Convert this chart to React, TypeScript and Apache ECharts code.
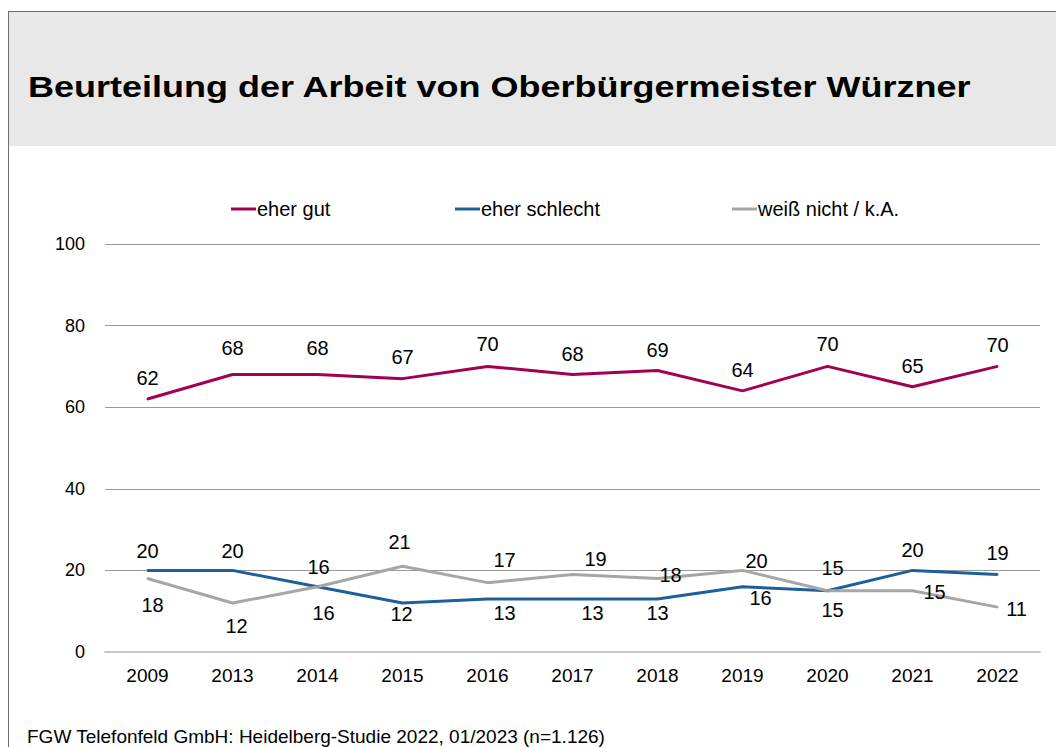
import React, { useEffect, useRef } from "react";
import * as echarts from "echarts";

const years = ["2009", "2013", "2014", "2015", "2016", "2017", "2018", "2019", "2020", "2021", "2022"];
const eherGut = [62, 68, 68, 67, 70, 68, 69, 64, 70, 65, 70];
const eherSchlecht = [20, 20, 16, 12, 13, 13, 13, 16, 15, 20, 19];
const weissNicht = [18, 12, 16, 21, 17, 19, 18, 20, 15, 15, 11];
const seriesNames = ["eher gut", "eher schlecht", "weiß nicht / k.A."];
const yTicks = { min: 0, max: 100, interval: 20 };

const titleText = "Beurteilung der Arbeit von Oberbürgermeister Würzner";
const footerText = "FGW Telefonfeld GmbH: Heidelberg-Studie 2022, 01/2023 (n=1.126)";

// label placement (offsets of label centre from point, in px)
const gutOffsets = [[0, -21], [0, -27], [0, -27], [0, -22], [0, -22], [0, -21], [0, -20], [0, -21], [0, -22], [0, -21], [0, -21]];
const schlechtOffsets = [[0, -19], [0, -19], [6, 26], [-1, 11], [17, 14], [20, 14], [0, 14], [18, 11], [5, 19], [0, -20], [0, -21]];
const weissOffsets = [[5, 26], [4, 23], [1, -20], [-3, -24], [17, -23], [23, -15], [13, -4], [14, -9], [5, -23], [22, 1], [19, 2]];

const FONT = "Arial, 'Liberation Sans', sans-serif";
const colors = ["#A3004F", "#1F5F99", "#A6A6A6"];

function buildData(values: number[], offsets: number[][]) {
  return values.map((v, i) => ({
    value: v,
    label: { position: "inside", offset: offsets[i] },
  }));
}

function makeSeries(name: string, values: number[], offsets: number[][], color: string) {
  return {
    name,
    type: "line",
    data: buildData(values, offsets),
    symbol: "circle",
    symbolSize: 2,
    showSymbol: true,
    lineStyle: { color, width: 3 },
    itemStyle: { color },
    label: {
      show: true,
      fontFamily: FONT,
      fontSize: 20,
      color: "#000",
    },
    emphasis: { disabled: true },
  };
}

export default function App() {
  const ref = useRef<HTMLDivElement>(null);
  useEffect(() => {
    if (!ref.current) return;
    const chart = echarts.init(ref.current, undefined, { renderer: "svg" });
    const legendBase = {
      top: 194,
      itemWidth: 25,
      itemHeight: 3,
      itemGap: 0,
      icon: "rect",
      textStyle: { fontFamily: FONT, fontSize: 20, color: "#000", padding: [0, 0, 0, -4] },
    };
    chart.setOption({
      animation: false,
      backgroundColor: "#fff",
      color: colors,
      graphic: [
        { type: "rect", shape: { x: 8, y: 12, width: 1048, height: 134 }, style: { fill: "#E8E8E8" }, silent: true },
        { type: "line", shape: { x1: 8, y1: 11.5, x2: 1056, y2: 11.5 }, style: { stroke: "#6E6E6E", lineWidth: 1 }, silent: true },
        { type: "line", shape: { x1: 8.5, y1: 11, x2: 8.5, y2: 747 }, style: { stroke: "#6E6E6E", lineWidth: 1 }, silent: true },
        {
          type: "text",
          x: 28,
          y: 87,
          scaleX: 1.2,
          style: {
            text: titleText,
            fontFamily: FONT,
            fontSize: 30,
            fontWeight: "bold",
            fill: "#000",
            verticalAlign: "middle",
            align: "left",
          },
          silent: true,
        },
        {
          type: "text",
          x: 27,
          y: 736,
          style: {
            text: footerText,
            fontFamily: FONT,
            fontSize: 19,
            fill: "#000",
            verticalAlign: "middle",
            align: "left",
          },
          silent: true,
        },
      ],
      legend: [
        { ...legendBase, left: 226, data: [seriesNames[0]] },
        { ...legendBase, left: 450, data: [seriesNames[1]] },
        { ...legendBase, left: 727, data: [seriesNames[2]] },
      ],
      grid: { left: 105, right: 16, top: 244, bottom: 95, containLabel: false },
      xAxis: {
        type: "category",
        data: years,
        boundaryGap: true,
        axisLine: { show: true, lineStyle: { color: "#C8C8C8", width: 2 } },
        axisTick: { show: false },
        axisLabel: { fontFamily: FONT, fontSize: 19, color: "#000", margin: 14 },
        splitLine: { show: false },
      },
      yAxis: {
        type: "value",
        min: yTicks.min,
        max: yTicks.max,
        interval: yTicks.interval,
        axisLine: { show: false },
        axisTick: { show: false },
        axisLabel: { fontFamily: FONT, fontSize: 18, color: "#000", margin: 20 },
        splitLine: { lineStyle: { color: "#999999", width: 1 } },
      },
      series: [
        makeSeries(seriesNames[0], eherGut, gutOffsets, colors[0]),
        makeSeries(seriesNames[1], eherSchlecht, schlechtOffsets, colors[1]),
        makeSeries(seriesNames[2], weissNicht, weissOffsets, colors[2]),
      ],
    });
    return () => chart.dispose();
  }, []);
  return (
    <div
      ref={ref}
      style={{ position: "absolute", left: 0, top: 0, width: 1056, height: 747 }}
    />
  );
}
